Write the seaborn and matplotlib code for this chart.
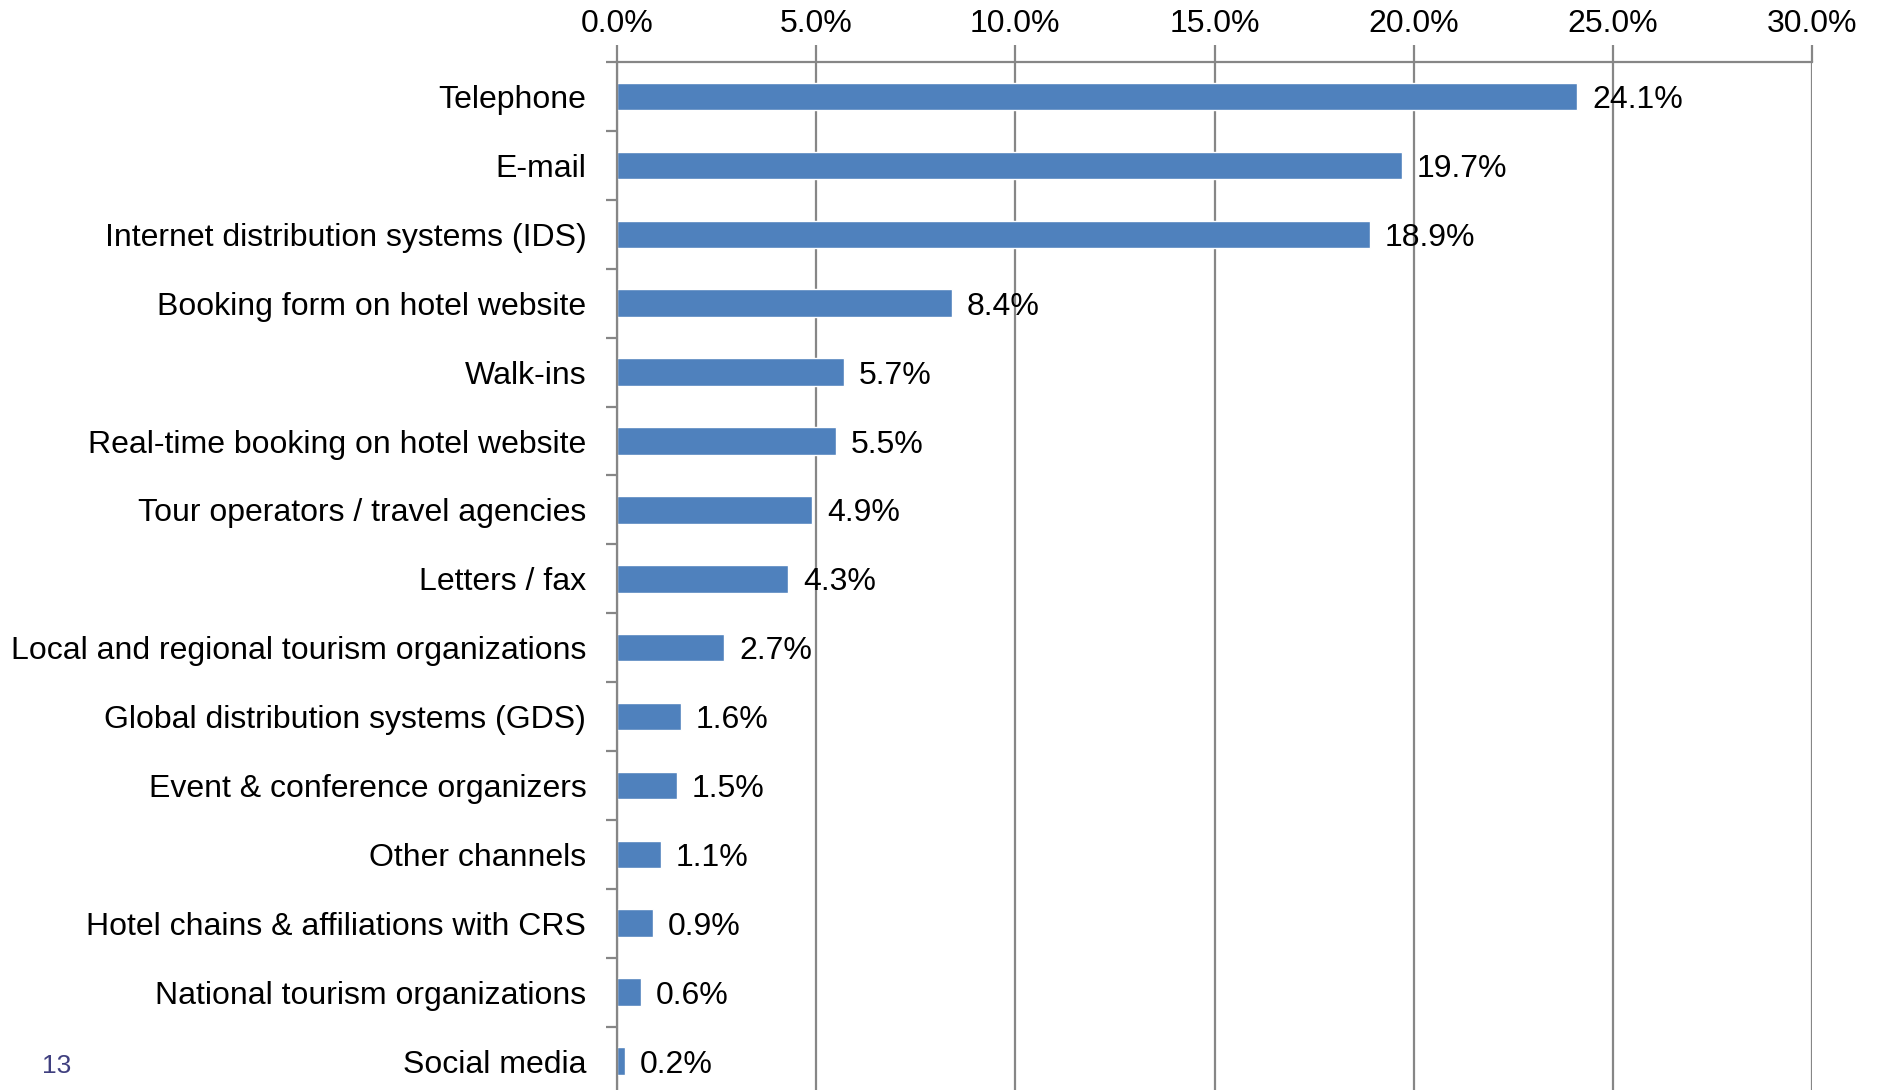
import matplotlib
matplotlib.use("Agg")
import matplotlib.pyplot as plt
import seaborn as sns
import pandas as pd
from matplotlib.ticker import FixedLocator, PercentFormatter

channels = [
    "Telephone",
    "E-mail",
    "Internet distribution systems (IDS)",
    "Booking form on hotel website",
    "Walk-ins",
    "Real-time booking on hotel website",
    "Tour operators / travel agencies",
    "Letters / fax",
    "Local and regional tourism organizations",
    "Global distribution systems (GDS)",
    "Event & conference organizers",
    "Other channels",
    "Hotel chains & affiliations with CRS",
    "National tourism organizations",
    "Social media",
]
shares = [24.1, 19.7, 18.9, 8.4, 5.7, 5.5, 4.9, 4.3, 2.7, 1.6, 1.5, 1.1, 0.9, 0.6, 0.2]
x_ticks = [0, 5, 10, 15, 20, 25, 30]

df = pd.DataFrame({"channel": channels, "share": shares})

sns.set_style("white")
plt.rcParams["font.family"] = ["Liberation Sans", "DejaVu Sans"]

fig = plt.figure(figsize=(18.78, 10.90), dpi=100)
ax = fig.add_axes([0.3285, -0.005, 0.6364, 0.948])

sns.barplot(data=df, x="share", y="channel", orient="h", color="#4F81BD",
            width=0.4, saturation=1, ax=ax)

grid_col = "#868686"
ax.set_xlim(0, 30)
ax.set_ylim(len(channels) - 0.5, -0.5)
ax.xaxis.set_major_locator(FixedLocator(x_ticks))
ax.xaxis.set_major_formatter(PercentFormatter(decimals=1))
ax.xaxis.tick_top()
ax.grid(axis="x", color=grid_col, linewidth=1.6)
ax.set_axisbelow(True)

for side in ["right", "bottom"]:
    ax.spines[side].set_visible(False)
for side in ["top", "left"]:
    ax.spines[side].set_color(grid_col)
    ax.spines[side].set_linewidth(1.6)

ax.tick_params(axis="x", top=True, length=12, width=1.6, color=grid_col,
               labelsize=23, pad=5, labelcolor="black")
ax.tick_params(axis="y", which="major", left=False, length=0, labelsize=23, pad=22,
               labelcolor="black")
ax.yaxis.set_minor_locator(FixedLocator([i - 0.5 for i in range(len(channels) + 1)]))
ax.tick_params(axis="y", which="minor", left=True, length=8, width=1.6, color=grid_col)
ax.set_xlabel("")
ax.set_ylabel("")

for i, v in enumerate(shares):
    ax.text(v + 0.38, i, f"{v:.1f}%", va="center_baseline", ha="left", fontsize=23,
            color="black")

fig.text(0.030, 0.022, "13", fontsize=19, color="#3F3F7F", ha="center", va="center")

fig.savefig("out.png", dpi=100)
